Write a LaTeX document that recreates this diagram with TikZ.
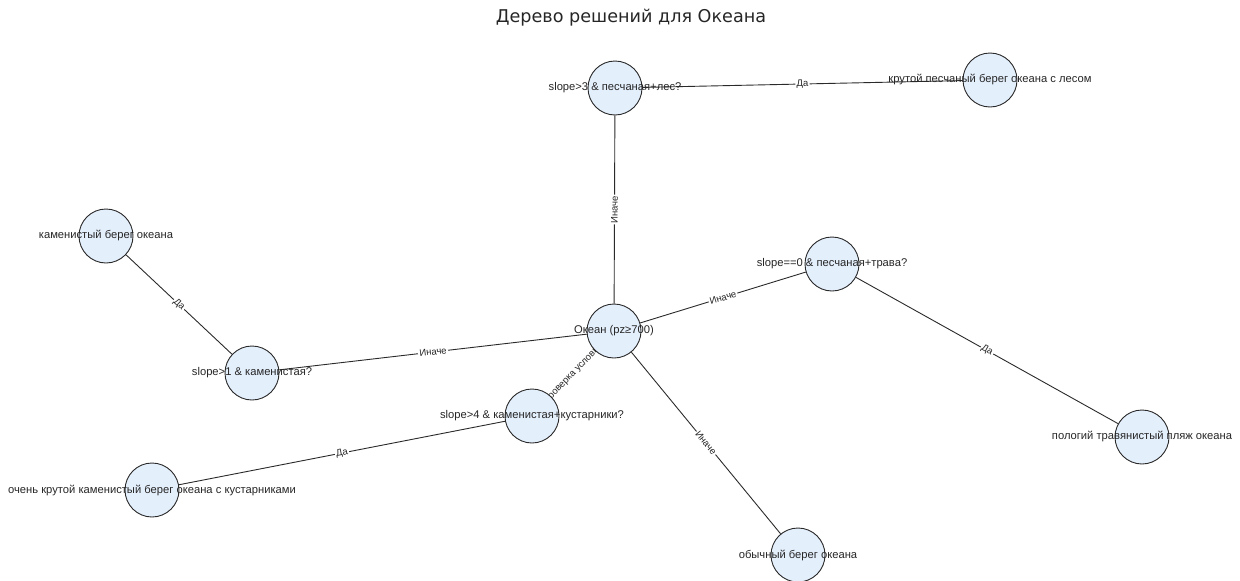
\documentclass[tikz,border=0pt]{standalone}
\usepackage{fontspec}
\setmainfont{Liberation Sans}
\newfontfamily\titlefont{DejaVu Sans}
\usetikzlibrary{backgrounds}
\definecolor{nodefill}{HTML}{E4EFFC}
\definecolor{edgecol}{HTML}{2A2A2A}
\begin{document}
\begin{tikzpicture}[x=1pt,y=-1pt,
  circ/.style={circle,draw=edgecol,line width=0.9pt,fill=nodefill,minimum size=54pt,inner sep=0pt},
  ntext/.style={font=\fontsize{11.2}{13}\selectfont,text=black!85,inner sep=0pt},
  edge/.style={draw=edgecol,line width=0.9pt},
  elab/.style={midway,sloped,fill=white,inner sep=1.2pt,font=\fontsize{9.5}{11}\selectfont,text=black!85}]
\useasboundingbox (0,0) rectangle (1240,581);
\node[font=\titlefont\fontsize{17.6}{20}\selectfont,text=black!85] (title) at (631,18) {Дерево решений для Океана};
% nodes
\node[circ] (root) at (614,331) {};
\node[circ] (s3) at (615,88) {};
\node[circ] (kp) at (990,80) {};
\node[circ] (s1) at (252,373) {};
\node[circ] (kb) at (106,236) {};
\node[circ] (s4) at (532,416) {};
\node[circ] (ok) at (152,490) {};
\node[circ] (s0) at (832,264) {};
\node[circ] (pt) at (1142,437) {};
\node[circ] (ob) at (798,555) {};
% node texts
\node[ntext] (root-t) at (root) {Океан (pz≥700)};
\node[ntext] (s3-t) at (s3) {slope>3 \& песчаная+лес?};
\node[ntext] (kp-t) at (kp) {крутой песчаный берег океана с лесом};
\node[ntext] (s1-t) at (s1) {slope>1 \& каменистая?};
\node[ntext] (kb-t) at (kb) {каменистый берег океана};
\node[ntext] (s4-t) at (s4) {slope>4 \& каменистая+кустарники?};
\node[ntext] (ok-t) at (ok) {очень крутой каменистый берег океана с кустарниками};
\node[ntext] (s0-t) at (s0) {slope==0 \& песчаная+трава?};
\node[ntext] (pt-t) at (pt) {пологий травянистый пляж океана};
\node[ntext] (ob-t) at (ob) {обычный берег океана};
% edges
\begin{scope}[on background layer]
\draw[edge] (root) -- node[elab] {Иначе} (s3);
\draw[edge] (s3) -- node[elab] {Да} (kp);
\draw[edge] (s1) -- node[elab] {Иначе} (root);
\draw[edge] (kb) -- node[elab] {Да} (s1);
\draw[edge] (s4) -- node[elab] {Проверка условий} (root);
\draw[edge] (ok) -- node[elab] {Да} (s4);
\draw[edge] (root) -- node[elab] {Иначе} (s0);
\draw[edge] (s0) -- node[elab] {Да} (pt);
\draw[edge] (root) -- node[elab] {Иначе} (ob);
\end{scope}
\end{tikzpicture}
\end{document}
